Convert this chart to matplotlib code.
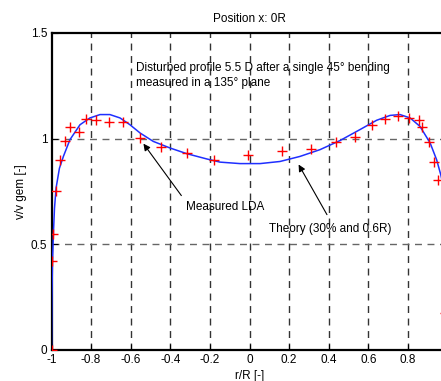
import numpy as np
import matplotlib.pyplot as plt

plt.rcParams['font.family'] = ['Liberation Sans', 'DejaVu Sans']

# measured LDA points (r/R, v/v gem)
meas_x = [-1.0, -0.997, -0.991, -0.977, -0.959, -0.933, -0.907, -0.863, -0.824, -0.775,
          -0.711, -0.640, -0.555, -0.448, -0.317, -0.178, -0.006, 0.163, 0.309, 0.435,
          0.533, 0.619, 0.683, 0.749, 0.804, 0.855, 0.873, 0.905, 0.930, 0.954, 0.985]
meas_y = [0.0, 0.423, 0.551, 0.754, 0.899, 0.989, 1.057, 1.030, 1.093, 1.087,
          1.081, 1.077, 1.005, 0.961, 0.932, 0.899, 0.921, 0.942, 0.949, 0.984,
          1.006, 1.063, 1.093, 1.107, 1.098, 1.087, 1.054, 0.986, 0.889, 0.806, 0.175]

# theory curve (30% and 0.6R)
th_x = [-1.0, -0.998, -0.995, -0.99, -0.985, -0.977, -0.96, -0.94, -0.907, -0.856,
        -0.806, -0.755, -0.705, -0.654, -0.604, -0.553, -0.486, -0.402, -0.317, -0.216,
        -0.149, -0.048, 0.053, 0.154, 0.255, 0.356, 0.457, 0.558, 0.642, 0.710,
        0.760, 0.811, 0.861, 0.912, 0.945, 0.966, 0.975]
th_y = [0.0, 0.25, 0.42, 0.56, 0.67, 0.766, 0.86, 0.916, 0.995, 1.066,
        1.098, 1.114, 1.114, 1.098, 1.066, 1.027, 0.987, 0.956, 0.929, 0.904,
        0.889, 0.882, 0.882, 0.892, 0.916, 0.948, 0.991, 1.043, 1.087, 1.110,
        1.114, 1.098, 1.058, 0.980, 0.900, 0.829, 0.79]

xticks = [-1, -0.8, -0.6, -0.4, -0.2, 0, 0.2, 0.4, 0.6, 0.8]
xticklabels = ['-1', '-0.8', '-0.6', '-0.4', '-0.2', '0', '0.2', '0.4', '0.6', '0.8']
yticks = [0, 0.5, 1, 1.5]
yticklabels = ['0', '0.5', '1', '1.5']

fs = 8.5

fig = plt.figure(figsize=(4.41, 3.81), dpi=100)
ax = fig.add_axes([0.1168, 0.0814, 0.898, 0.832])

ax.plot(th_x, th_y, color='#1f2fff', lw=1.1, zorder=3)
ax.plot(meas_x, meas_y, '+', color='red', ms=6.5, mew=1.0, zorder=4)

ax.set_xlim(-1, 1)
ax.set_ylim(0, 1.5)
ax.set_xticks(xticks)
ax.set_xticklabels(xticklabels)
ax.set_yticks(yticks)
ax.set_yticklabels(yticklabels)
ax.tick_params(direction='in', labelsize=fs, length=4, pad=3)

for xv in xticks[1:]:
    ax.axvline(xv, color='0.2', ls=(0, (5, 4)), lw=1.0, zorder=1)
for yv in yticks[1:-1]:
    ax.axhline(yv, color='0.4', ls=(0, (5, 4)), lw=1.0, zorder=1)

for s in ax.spines.values():
    s.set_linewidth(1.6)

ax.set_title('Position x: 0R', fontsize=fs, pad=8)
ax.set_xlabel('r/R [-]', fontsize=fs, labelpad=3)
ax.set_ylabel('v/v gem [-]', fontsize=fs, labelpad=3)

ax.text(-0.573, 1.332, 'Disturbed profile 5.5 D after a single 45\u00b0 bending',
        fontsize=fs, va='center', zorder=5)
ax.text(-0.573, 1.265, 'measured in a 135\u00b0 plane', fontsize=fs, va='center', zorder=5)

ax.annotate('', xy=(-0.544, 0.987), xytext=(-0.336, 0.72),
            arrowprops=dict(arrowstyle='-|>', color='black', lw=0.8,
                            mutation_scale=10))
ax.text(-0.32, 0.678, 'Measured LDA', fontsize=fs, va='center', zorder=5)

ax.annotate('', xy=(0.241, 0.889), xytext=(0.398, 0.629),
            arrowprops=dict(arrowstyle='-|>', color='black', lw=0.8,
                            mutation_scale=10))
ax.text(0.1, 0.572, 'Theory (30% and 0.6R)', fontsize=fs, va='center', zorder=5)

fig.savefig('out.png', dpi=100)
